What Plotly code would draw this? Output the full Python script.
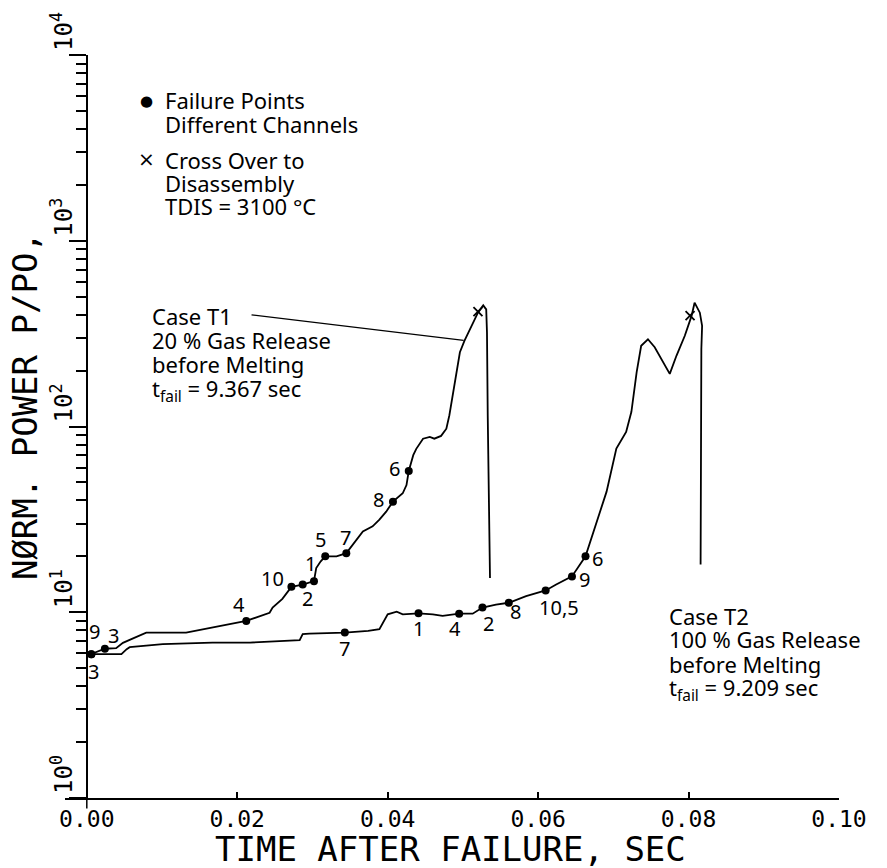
import numpy as np
import plotly.graph_objects as go

# Case T1: 20 % gas release before melting (t_fail = 9.367 s)
t1_time = [0.0, 0.0006, 0.0024, 0.0039, 0.0048, 0.0060, 0.0070, 0.0079, 0.0132, 0.0150,
           0.0212, 0.0243, 0.0247, 0.0260, 0.0272, 0.0287, 0.0302, 0.0305, 0.0311, 0.0317,
           0.0332, 0.0345, 0.0354, 0.0367, 0.0380, 0.0389, 0.0398, 0.0407, 0.0420, 0.0425,
           0.0428, 0.0434, 0.0438, 0.0447, 0.0456, 0.0462, 0.0471, 0.0478, 0.0482, 0.0487,
           0.0491, 0.0496, 0.0502, 0.0509, 0.0516, 0.0520, 0.0527, 0.0531, 0.0532, 0.0533,
           0.0536]
t1_power = [5.83, 5.95, 6.36, 6.41, 6.84, 7.19, 7.46, 7.77, 7.77, 8.03,
            8.98, 9.94, 10.6, 11.8, 13.7, 14.1, 14.7, 17.3, 18.8, 20.0,
            20.0, 20.8, 23.1, 27.2, 29.0, 31.5, 34.8, 39.4, 43.7, 48.4,
            57.6, 70.1, 75.8, 86.0, 87.9, 86.0, 89.0, 97.3, 115, 153,
            196, 251, 289, 334, 378, 410, 449, 427, 321, 115,
            15.3]

# Case T2: 100 % gas release before melting (t_fail = 9.209 s)
t2_time = [0.0, 0.0006, 0.0017, 0.0046, 0.0053, 0.0057, 0.0101, 0.0167, 0.0217, 0.0283,
           0.0287, 0.0296, 0.0343, 0.0374, 0.0389, 0.0400, 0.0412, 0.0420, 0.0441, 0.0460,
           0.0473, 0.0495, 0.0513, 0.0526, 0.0544, 0.0561, 0.0584, 0.0610, 0.0624, 0.0645,
           0.0663, 0.0677, 0.0691, 0.0704, 0.0717, 0.0724, 0.0731, 0.0737, 0.0746, 0.0755,
           0.0766, 0.0775, 0.0784, 0.0795, 0.0804, 0.0808, 0.0815, 0.0818, 0.0817, 0.0816]
t2_power = [5.83, 5.95, 5.95, 5.95, 6.33, 6.49, 6.74, 6.87, 6.87, 7.08,
            7.62, 7.68, 7.77, 7.94, 8.10, 9.75, 10.07, 9.75, 9.87, 9.75,
            9.55, 9.82, 9.82, 10.6, 11.0, 11.25, 12.2, 13.1, 14.1, 15.6,
            20.0, 29.6, 44.6, 76.0, 93.4, 120, 196, 272, 295, 267,
            222, 192, 241, 308, 394, 464, 410, 348, 261, 18.1]

# Failure points of the individual channels
t1_fail_channel = ["9", "3", "4", "10", "2", "1", "5", "7", "8", "6"]
t1_fail_time = [0.0006, 0.0024, 0.0212, 0.0272, 0.0287, 0.0302, 0.0317, 0.0345, 0.0407, 0.0428]
t1_fail_power = [5.95, 6.36, 8.98, 13.7, 14.1, 14.7, 20.0, 20.8, 39.4, 57.6]

t2_fail_channel = ["3", "7", "1", "4", "2", "8", "10,5", "9", "6"]
t2_fail_time = [0.0006, 0.0343, 0.0441, 0.0495, 0.0526, 0.0561, 0.0610, 0.0645, 0.0663]
t2_fail_power = [5.95, 7.77, 9.87, 9.82, 10.6, 11.25, 13.1, 15.6, 20.0]

# Cross over to disassembly (TDIS = 3100 °C)
cross_time = [0.0520, 0.0802]
cross_power = [415, 395]

# Leader line from the "Case T1" note to its curve
leader_time = [0.0219, 0.0501]
leader_power = [399, 291]

x_tick_vals = [0.0, 0.02, 0.04, 0.06, 0.08, 0.10]
x_tick_text = ["0.00", "0.02", "0.04", "0.06", "0.08", "0.10"]
y_tick_vals = [1, 10, 100, 1000, 10000]
y_tick_text = ["10<sup>0</sup>", "10<sup>1</sup>", "10<sup>2</sup>", "10<sup>3</sup>", "10<sup>4</sup>"]
y_minor_vals = [m * 10 ** d for d in range(4) for m in range(2, 10)]

# label offsets (pixels) for the channel numbers
t1_label_dx = [3, 9, -7, -19, 5, -3, -5, -1, -14, -14]
t1_label_dy = [23, 13, 16, 8, -14, 18, 17, 16, 2, 3]
t2_label_dx = [2, 0, 0, -4, 6, 7, 13, 13, 12]
t2_label_dy = [-17, -16, -15, -15, -16, -9, -17, -3, -2]

MONO = "DejaVu Sans Mono"
SANS = "Noto Sans"
INK = "black"

fig = go.Figure()

for tx, py in ((t1_time, t1_power), (t2_time, t2_power)):
    fig.add_trace(go.Scatter(x=tx, y=py, mode="lines",
                             line=dict(color=INK, width=1.8), hoverinfo="skip"))

fig.add_trace(go.Scatter(x=leader_time, y=leader_power, mode="lines",
                         line=dict(color=INK, width=1.1), hoverinfo="skip"))

fig.add_trace(go.Scatter(x=t1_fail_time + t2_fail_time, y=t1_fail_power + t2_fail_power,
                         mode="markers", marker=dict(color=INK, size=8, symbol="circle")))

fig.add_trace(go.Scatter(x=cross_time, y=cross_power, mode="markers",
                         marker=dict(color=INK, size=9, symbol="x-thin",
                                     line=dict(color=INK, width=1.8))))

annotations = []
for chans, tx, py, dxs, dys in ((t1_fail_channel, t1_fail_time, t1_fail_power, t1_label_dx, t1_label_dy),
                                (t2_fail_channel, t2_fail_time, t2_fail_power, t2_label_dx, t2_label_dy)):
    for c, x, y, dx, dy in zip(chans, tx, py, dxs, dys):
        annotations.append(dict(x=x, y=float(np.log10(y)), xref="x", yref="y", text=c,
                                showarrow=False, xshift=dx, yshift=dy,
                                font=dict(family=SANS, size=20, color=INK)))

def px_to_paper(px, py):
    return (px - 65) / 774.0, (798 - py) / 747.0

# Key for the symbols
for sym, size, px, py in (("\u25cf", 15, 146, 97), ("\u00d7", 20, 146, 156)):
    xp, yp = px_to_paper(px, py)
    annotations.append(dict(x=xp, y=yp, xref="paper", yref="paper", text=sym, showarrow=False,
                            xanchor="center", yanchor="middle",
                            font=dict(family="DejaVu Sans", size=size, color=INK)))

note_lines = [
    ("Failure Points", 163, 96), ("Different Channels", 163, 120),
    ("Cross Over to", 163, 157), ("Disassembly", 163, 180), ("TDIS = 3100 \u00b0C", 163, 203),
    ("Case T1", 150, 313), ("20 % Gas Release", 150, 338), ("before Melting", 150, 362),
    ("t<sub>fail</sub> = 9.367 sec", 150, 388),
    ("Case T2", 667, 615), ("100 % Gas Release", 667, 638), ("before Melting", 667, 663),
    ("t<sub>fail</sub> = 9.209 sec", 667, 688),
]
for txt, px, py in note_lines:
    xp, yp = px_to_paper(px, py)
    annotations.append(dict(x=xp, y=yp, xref="paper", yref="paper", text=txt, showarrow=False,
                            xanchor="left", yanchor="middle",
                            font=dict(family=SANS, size=22, color=INK)))

# Axis titles
xp, yp = px_to_paper(450, 849)
annotations.append(dict(x=xp, y=yp, xref="paper", yref="paper", text="TIME AFTER FAILURE, SEC",
                        showarrow=False, xanchor="center", yanchor="middle",
                        font=dict(family=MONO, size=34, color=INK)))
xp, yp = px_to_paper(25, 404)
annotations.append(dict(x=xp, y=yp, xref="paper", yref="paper", text="N\u00d8RM. POWER P/PO,",
                        showarrow=False, textangle=-90, xanchor="center", yanchor="middle",
                        font=dict(family=MONO, size=34, color=INK)))

x_lo = -0.0029
fig.update_layout(
    width=887, height=868,
    margin=dict(l=65, r=48, t=51, b=70),
    paper_bgcolor="white", plot_bgcolor="white",
    showlegend=False,
    annotations=annotations,
    xaxis=dict(range=[x_lo, 0.10], tickmode="array", tickvals=x_tick_vals, ticktext=x_tick_text,
               ticks="inside", ticklen=6, tickwidth=1.5, tickcolor=INK,
               showline=True, linecolor=INK, linewidth=1.5, showgrid=False, zeroline=False,
               tickfont=dict(family=MONO, size=23, color=INK)),
    yaxis=dict(type="log", range=[0, 4], anchor="free", position=(0 - x_lo) / (0.10 - x_lo),
               tickmode="array", tickvals=y_tick_vals, ticktext=y_tick_text, tickangle=-90,
               ticks="outside", ticklen=17, tickwidth=1.5, tickcolor=INK,
               ticklabelshift=-20, ticklabelstandoff=-13,
               minor=dict(tickmode="array", tickvals=y_minor_vals, ticks="outside",
                          ticklen=10, tickwidth=1.5, tickcolor=INK, showgrid=False),
               showline=True, linecolor=INK, linewidth=1.5, showgrid=False, zeroline=False,
               tickfont=dict(family=MONO, size=24, color=INK)),
    shapes=[dict(type="line", xref="x", yref="paper", x0=0, x1=0, y0=0, y1=-0.014,
                 line=dict(color=INK, width=1.5))],
)

fig.write_html("out.html")
